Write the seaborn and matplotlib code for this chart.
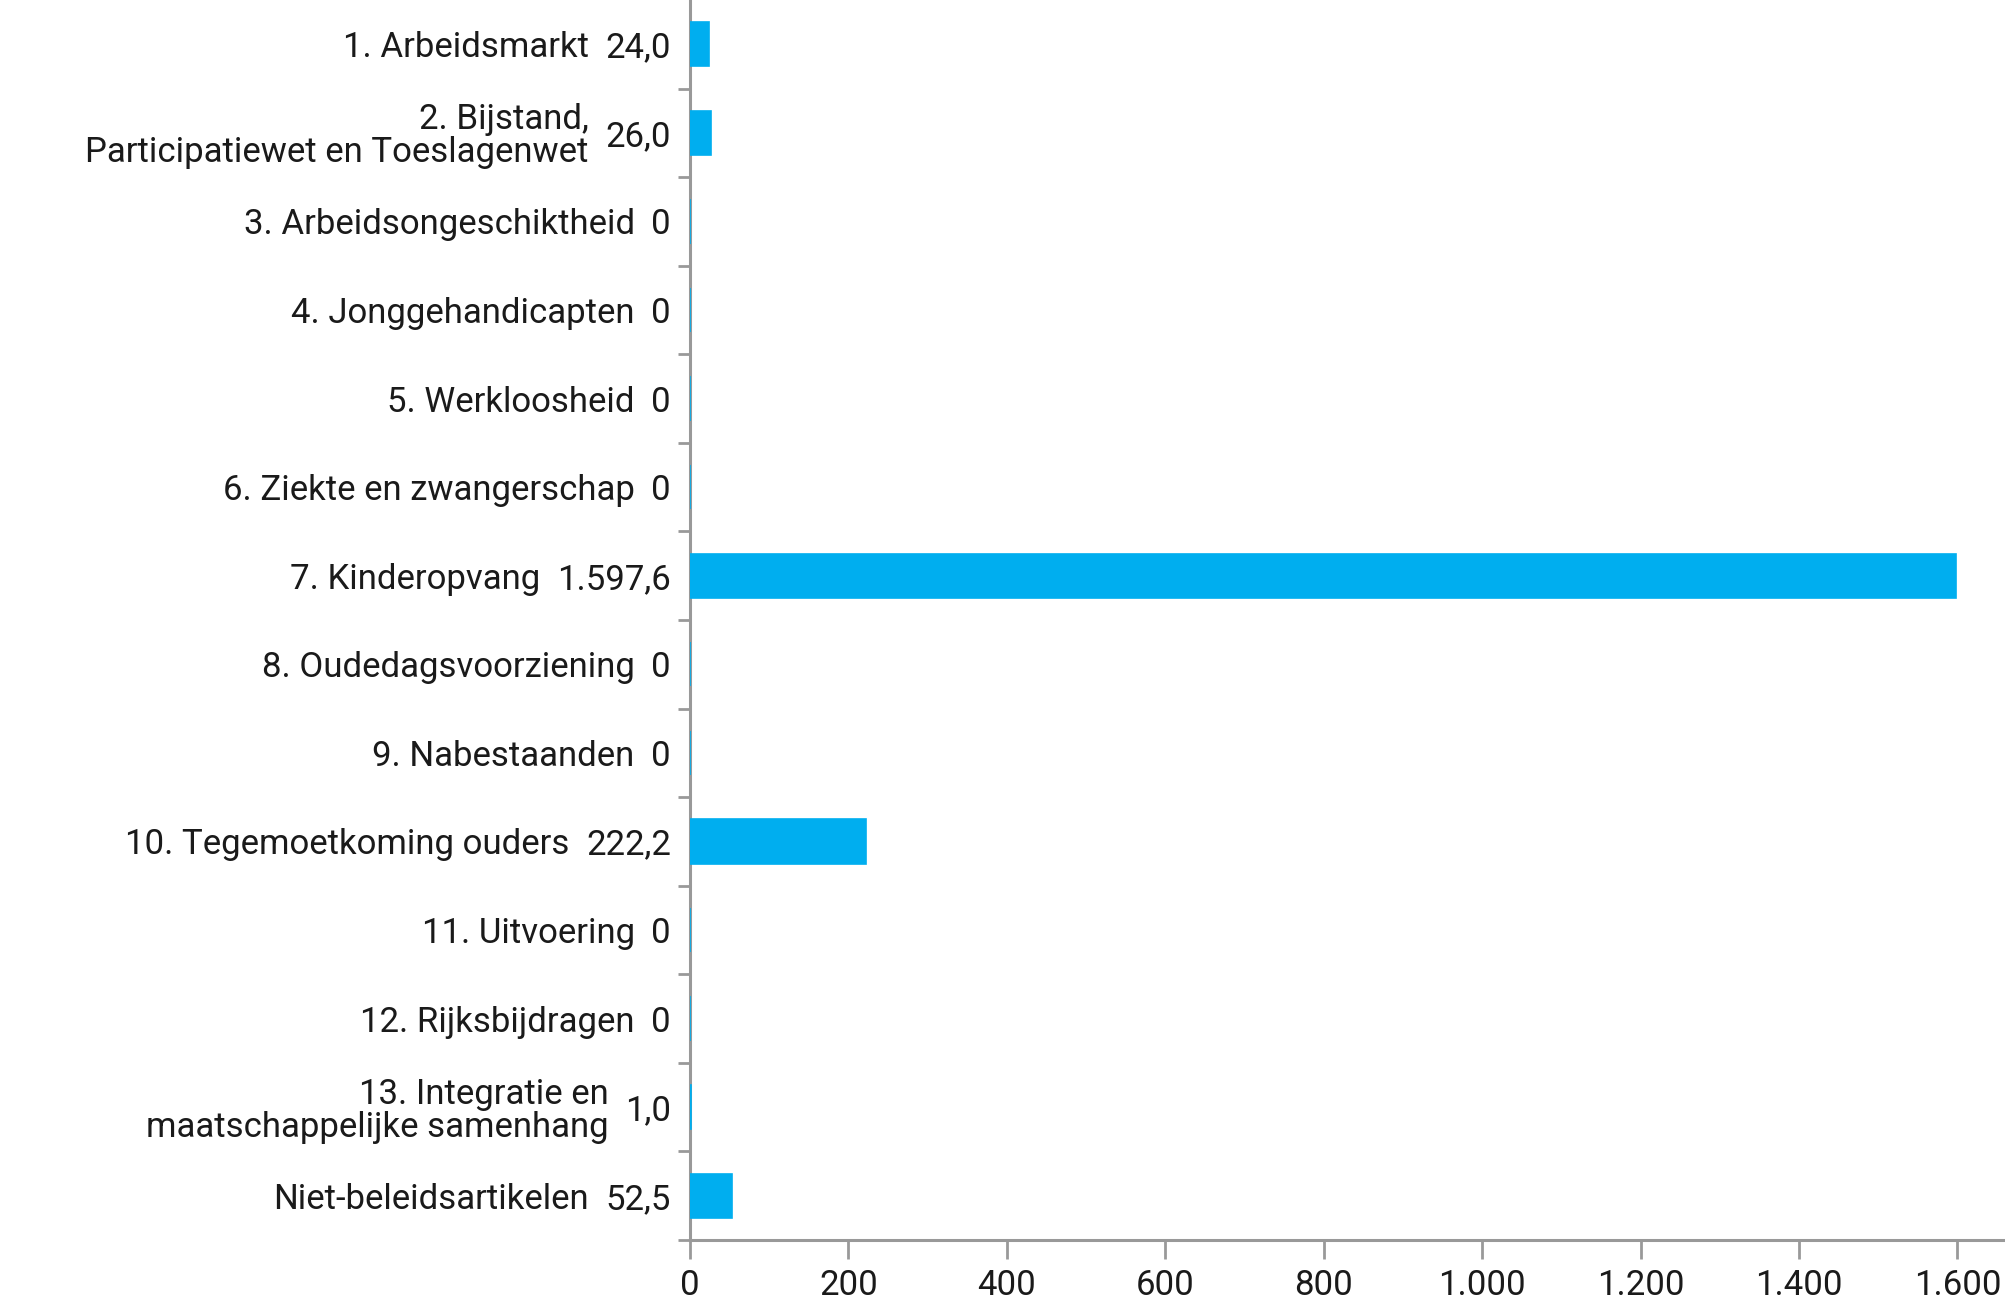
import matplotlib
matplotlib.use('Agg')
import pandas as pd
import seaborn as sb
import matplotlib.pyplot as plt

# Chart data
categories = [
    '1. Arbeidsmarkt',
    '2. Bijstand,\nParticipatiewet en Toeslagenwet',
    '3. Arbeidsongeschiktheid',
    '4. Jonggehandicapten',
    '5. Werkloosheid',
    '6. Ziekte en zwangerschap',
    '7. Kinderopvang',
    '8. Oudedagsvoorziening',
    '9. Nabestaanden',
    '10. Tegemoetkoming ouders',
    '11. Uitvoering',
    '12. Rijksbijdragen',
    '13. Integratie en\nmaatschappelijke samenhang',
    'Niet-beleidsartikelen',
]
values = [24.0, 26.0, 0, 0, 0, 0, 1597.6, 0, 0, 222.2, 0, 0, 1.0, 52.5]
x_ticks = [0, 200, 400, 600, 800, 1000, 1200, 1400, 1600]

BAR = '#00aeef'
GREY = '#999999'
TEXT = '#1a1a1a'
FS = 25


def nl_format(v, decimals=1):
    if v == 0:
        return '0'
    s = f'{v:,.{decimals}f}'
    return s.replace(',', 'X').replace('.', ',').replace('X', '.')


dataset = pd.DataFrame({'categorie': categories, 'waarde': values})

sb.set_style('white')
plt.rcParams['font.family'] = ['Roboto', 'DejaVu Sans']

fig = plt.figure(figsize=(20.05, 13.02), dpi=100)
ax = fig.add_axes([690 / 2005, 62 / 1302, 1 - 690 / 2005, 1 - 62 / 1302])

sb.barplot(data=dataset, x='waarde', y='categorie', orient='h', color=BAR,
           width=0.5, saturation=1, ax=ax, edgecolor=BAR, linewidth=1.2)

# Bars (also the zero ones) sit on top of the axis line
for p in ax.patches:
    p.set_zorder(3)

ax.set_xlim(0, 1660)
ax.set_ylim(len(categories) - 0.5, -0.5)
ax.set_xlabel('')
ax.set_ylabel('')

# Spines
for side in ['top', 'right']:
    ax.spines[side].set_visible(False)
for side in ['left', 'bottom']:
    ax.spines[side].set_color(GREY)
    ax.spines[side].set_linewidth(2.2)

# X ticks
ax.set_xticks(x_ticks)
ax.set_xticklabels([nl_format(t, 0) for t in x_ticks], color=TEXT, fontsize=FS)
ax.tick_params(axis='x', direction='out', length=14, width=2, color=GREY, pad=7,
               bottom=True)

# Y ticks: marks at row boundaries, labels drawn as text
ax.set_yticks([i + 0.5 for i in range(len(categories))], minor=True)
ax.set_yticks(range(len(categories)))
ax.set_yticklabels([])
ax.tick_params(axis='y', which='major', length=0, left=False)
ax.tick_params(axis='y', which='minor', direction='out', length=8.5, width=2,
               color=GREY, left=True)

# Value labels with category names in front of them
trans = ax.get_yaxis_transform()
for i, (cat, v) in enumerate(zip(categories, values)):
    vt = ax.text(-19 / 1315, i, nl_format(v), transform=trans, ha='right',
                 va='center_baseline', color=TEXT, fontsize=FS)
    ax.annotate(cat, xy=(0, 0.5), xycoords=vt, xytext=(-12, 0),
                textcoords='offset points', ha='right', va='center',
                multialignment='right', color=TEXT, fontsize=FS,
                linespacing=1.0, annotation_clip=False)

fig.savefig('out.png', dpi=100)
